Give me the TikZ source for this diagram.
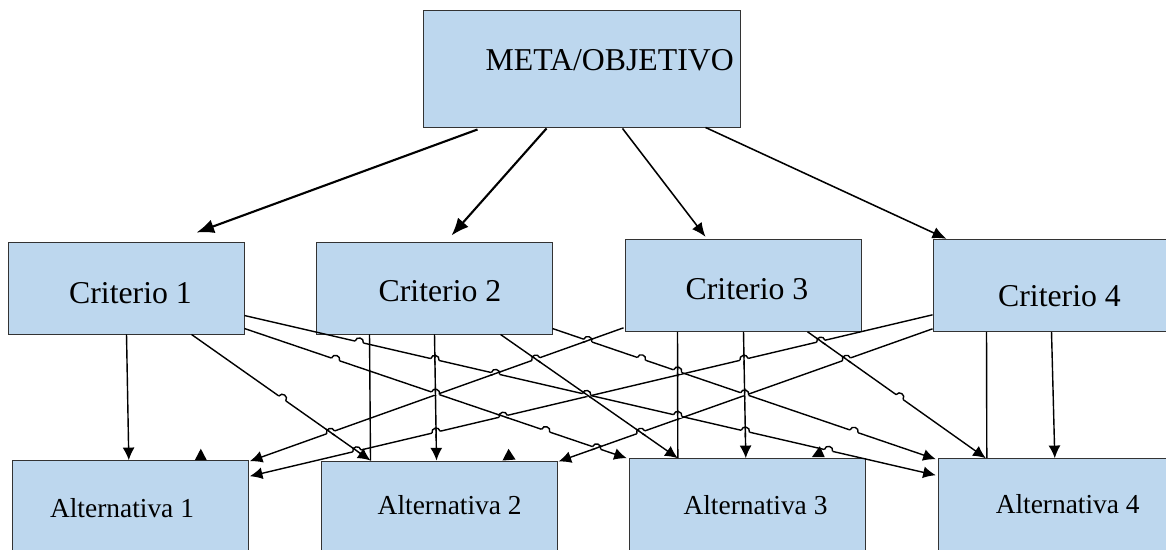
\documentclass[tikz,border=0pt]{standalone}
\usepackage{fontspec}
\setmainfont{Liberation Serif}
\usetikzlibrary{arrows.meta,calc,intersections}

\definecolor{cajaazul}{RGB}{189,215,238}

\tikzset{
	caja/.style={rectangle, draw=black!80, line width=0.65pt, fill=cajaazul, minimum width=5.9cm, minimum height=2.3cm, inner sep=0pt},
	texto/.style={anchor=base, inner sep=0pt, font=\fontsize{22.6}{27}\selectfont},
	textoalt/.style={anchor=base, inner sep=0pt, font=\fontsize{19.5}{23}\selectfont},
	linea/.style={line width=1pt},
	flecha/.style={linea, -{Latex[length=9pt, width=8.5pt]}},
	gruesa/.style={line width=1.5pt, -{Latex[length=12.5pt, width=10pt]}},
	media/.style={line width=1.1pt, -{Latex[length=10pt, width=8.5pt]}},
}

% salto de la linea #2 sobre la linea #3
\newcommand{\salto}[3][linea]{%
	\path[name intersections={of=#2 and #3, by=hx}];
	\draw[white, line width=2.2pt] ($(hx)!3pt!(#2-l)$) -- ($(hx)!3pt!(#2-r)$);
	\draw[#1] ($(hx)!4pt!(#3-l)$) -- ($(hx)!4pt!(#3-r)$);
	\draw[linea] ($(hx)!3pt!(#2-l)$) to[bend left=90, looseness=1.65] ($(hx)!3pt!(#2-r)$);
}

\begin{document}
\begin{tikzpicture}[x=0.025cm, y=-0.025cm]
	\useasboundingbox (0,0) rectangle (1166,550);
	\clip (0,0) rectangle (1166,550);

	% cajas
	\node[caja, minimum width=7.925cm, minimum height=2.925cm] (meta) at (581.5,68.5) {};
	\node[caja] (c1) at (126,288) {};
	\node[caja] (c2) at (434,288) {};
	\node[caja] (c3) at (743,285.3) {};
	\node[caja] (c4) at (1051,285.3) {};
	\node[caja, minimum height=2.5cm] (a1) at (130.3,510.7) {};
	\node[caja, minimum height=2.5cm] (a2) at (439,511) {};
	\node[caja, minimum height=2.5cm] (a3) at (747.3,508.7) {};
	\node[caja, minimum height=2.5cm] (a4) at (1056.3,508.7) {};

	\node[texto] (tmeta) at (609.7,70.7) {META/OBJETIVO};
	\node[texto] (tc1) at (130.5,303.3) {Criterio 1};
	\node[texto] (tc2) at (440,301.7) {Criterio 2};
	\node[texto] (tc3) at (747,299.3) {Criterio 3};
	\node[texto] (tc4) at (1059.5,306.7) {Criterio 4};
	\node[textoalt] (ta1) at (122,517.3) {Alternativa 1};
	\node[textoalt] (ta2) at (449.7,515) {Alternativa 2};
	\node[textoalt] (ta3) at (755.5,515) {Alternativa 3};
	\node[textoalt] (ta4) at (1067.7,513.3) {Alternativa 4};

	% meta -> criterios
	\draw[gruesa] ($(meta.south west)+(55,2)$) -- ($(c1.north west)+(189,-9)$);
	\draw[gruesa] ($(meta.south west)+(124,1)$) -- ($(c2.north west)+(136,-6)$);
	\draw[media] ($(meta.south west)+(200,1)$) -- ($(c3.north west)+(81,-2)$);
	\draw[media] ($(meta.south west)+(283,0)$) -- ($(c4.north west)+(14,0)$);

	% criterios -> alternativas
	\draw[flecha] ($(c1.south west)+(119,0)$) -- ($(a1.north west)+(117,0)$);
	\draw[flecha, name path=b] ($(c1.south west)+(184,0)$) coordinate (b-l) -- ($(a2.north west)+(50,0)$) coordinate (b-r);
	\draw[flecha, name path=c] ($(c1.north east)+(0,74)$) coordinate (c-l) -- ($(a4.north west)+(-2,17)$) coordinate (c-r);
	\draw[flecha, name path=d] ($(c1.north east)+(0,87)$) coordinate (d-l) -- ($(a3.north west)+(-2,0)$) coordinate (d-r);
	\draw[linea] ($(c2.south west)+(54,0)$) -- ($(a2.north west)+(50,0)$);
	\draw[flecha, name path=f] ($(c2.south west)+(119,0)$) coordinate (f-l) -- ($(a2.north west)+(116,0)$) coordinate (f-r);
	\draw[flecha, name path=g] ($(c2.south west)+(185,0)$) coordinate (g-l) -- ($(a3.north west)+(49,0)$) coordinate (g-r);
	\draw[flecha, name path=h] ($(c2.north east)+(0,87)$) coordinate (h-l) -- ($(a4.north west)+(-2,1)$) coordinate (h-r);
	\draw[flecha, name path=i] ($(c3.north west)+(-1,89)$) coordinate (i-r) -- ($(a1.north east)+(1,1)$) coordinate (i-l);
	\draw[linea, name path=j] ($(c3.south west)+(53,0)$) coordinate (j-l) -- ($(a3.north west)+(49,0)$) coordinate (j-r);
	\draw[flecha, name path=k] ($(c3.south west)+(119,0)$) coordinate (k-l) -- ($(a3.north west)+(117,0)$) coordinate (k-r);
	\draw[flecha, name path=l] ($(c3.south west)+(183,0)$) coordinate (l-l) -- ($(a4.north west)+(48,0)$) coordinate (l-r);
	\draw[flecha, name path=m] ($(c4.north west)+(0,76)$) coordinate (m-r) -- ($(a1.north east)+(1,16)$) coordinate (m-l);
	\draw[flecha, name path=n] ($(c4.north west)+(0,90)$) coordinate (n-r) -- ($(a2.north east)+(1,1)$) coordinate (n-l);
	\draw[linea] ($(c4.south west)+(54,0)$) -- ($(a4.north west)+(49,0)$);
	\draw[flecha] ($(c4.south west)+(119,0)$) -- ($(a4.north west)+(117,0)$);

	% conectores ocultos
	\path[name path=G1] ($(c2.south west)+(54,0)$) coordinate (G1-r) -- ($(a1.north west)+(189,-2)$) coordinate (G1-l);
	\path[name path=G2] ($(c3.south west)+(53,0)$) coordinate (G2-r) -- ($(a2.north west)+(188,-2)$) coordinate (G2-l);
	\path[name path=G3] ($(c4.south west)+(54,0)$) coordinate (G3-r) -- ($(a3.north west)+(192,-2)$) coordinate (G3-l);

	% saltos
	\foreach \u/\v in {c/f, c/i, c/g, c/j, c/k, d/f, n/g, m/d, m/f, m/k, m/l, n/l, h/i, h/j, h/k, i/b, i/g, m/b, d/n}
		{\salto{\u}{\v}}
	\foreach \u/\v in {b/G1, c/G1, d/G1, d/G2, h/G2, l/G3, h/G3, c/G3}
		{\salto[draw=none]{\u}{\v}}

	% puntas sueltas
	\fill ($(a1.north west)+(183,0)$) -- ($(a1.north west)+(195,0)$) -- ($(a1.north west)+(189,-11.5)$) -- cycle;
	\fill ($(a2.north west)+(182,0)$) -- ($(a2.north west)+(195,-1)$) -- ($(a2.north west)+(188,-11.7)$) -- cycle;
	\fill ($(a3.north west)+(183,-1)$) -- ($(a3.north west)+(196,-1)$) -- ($(a3.north west)+(191,-12)$) -- cycle;
\end{tikzpicture}
\end{document}
